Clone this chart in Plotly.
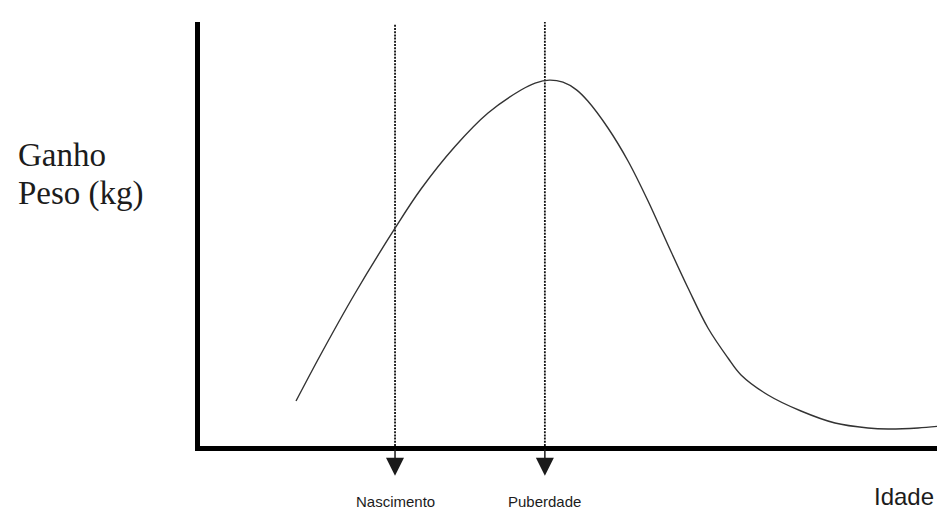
import plotly.graph_objects as go

# Curve: weight gain vs age (arbitrary units)
age = [12.75, 16.07, 20.58, 25.90, 29.35, 33.86, 38.25, 42.63, 44.5, 46.4,
       48.2, 50.0, 51.53, 54.18, 56.84, 59.50, 62.15, 64.81, 67.46, 70.12,
       71.85, 75.43, 79.81, 84.33, 88.71, 91.37, 95.35, 98.41]
gain = [10.61, 21.70, 35.97, 51.37, 60.61, 70.64, 78.54, 83.96, 85.6, 86.3,
        85.8, 84.0, 81.3, 75.00, 67.22, 57.78, 47.41, 37.26, 27.83, 20.75,
        16.75, 12.03, 8.25, 5.42, 4.25, 4.01, 4.25, 4.72]

# Marked events on the age axis
events = ["Nascimento", "Puberdade"]
event_age = [25.9, 45.8]
event_top = [99.5, 100.0]

x_label = "Idade"
y_label_lines = ["Ganho", "Peso (kg)"]

fig = go.Figure()

# dotted vertical event lines
for xa, top in zip(event_age, event_top):
    fig.add_trace(go.Scatter(
        x=[xa, xa], y=[0, top], mode="lines",
        line=dict(color="#111111", width=1.8, dash="2px,1.2px"),
        hoverinfo="skip", showlegend=False))

# growth curve
fig.add_trace(go.Scatter(
    x=age, y=gain, mode="lines",
    line=dict(color="#333333", width=1.4, shape="spline", smoothing=1.0),
    hoverinfo="skip", showlegend=False))

annotations = []
for name, xa in zip(events, event_age):
    # arrow below the axis (paper y so it is not hidden off-axis)
    annotations.append(dict(
        x=xa, y=-0.070, xref="x", yref="paper", text="",
        showarrow=True, ax=0, ay=-28,
        arrowhead=2, arrowsize=2.4, arrowwidth=1.5, arrowcolor="#1a1a1a"))
    annotations.append(dict(
        x=xa, y=0, xref="x", yref="y", text=name, showarrow=False,
        xanchor="center", yanchor="middle", yshift=-55,
        font=dict(family="Liberation Sans, Arial", size=15, color="#1c1c1c")))

annotations.append(dict(
    x=1, y=0, xref="paper", yref="paper", text=x_label, showarrow=False,
    xanchor="center", yanchor="middle", xshift=-49, yshift=-50,
    font=dict(family="Liberation Sans, Arial", size=24, color="#1c1c1c")))

for i, line in enumerate(y_label_lines):
    annotations.append(dict(
        x=0, y=1, xref="paper", yref="paper", text=line, showarrow=False,
        xanchor="left", yanchor="middle", xshift=-184, yshift=-(133 + 38 * i),
        font=dict(family="Liberation Serif, Times New Roman", size=33,
                  color="#1c1c1c")))

fig.update_layout(
    width=945, height=528,
    margin=dict(l=192, r=0, t=14, b=90),
    paper_bgcolor="white", plot_bgcolor="white",
    xaxis=dict(range=[0, 100], showline=True, linewidth=5, linecolor="black",
               showgrid=False, zeroline=False, showticklabels=False, ticks=""),
    yaxis=dict(range=[0, 100], showline=True, linewidth=5, linecolor="black",
               showgrid=False, zeroline=False, showticklabels=False, ticks=""),
    annotations=annotations,
)

fig.write_html("out.html")
